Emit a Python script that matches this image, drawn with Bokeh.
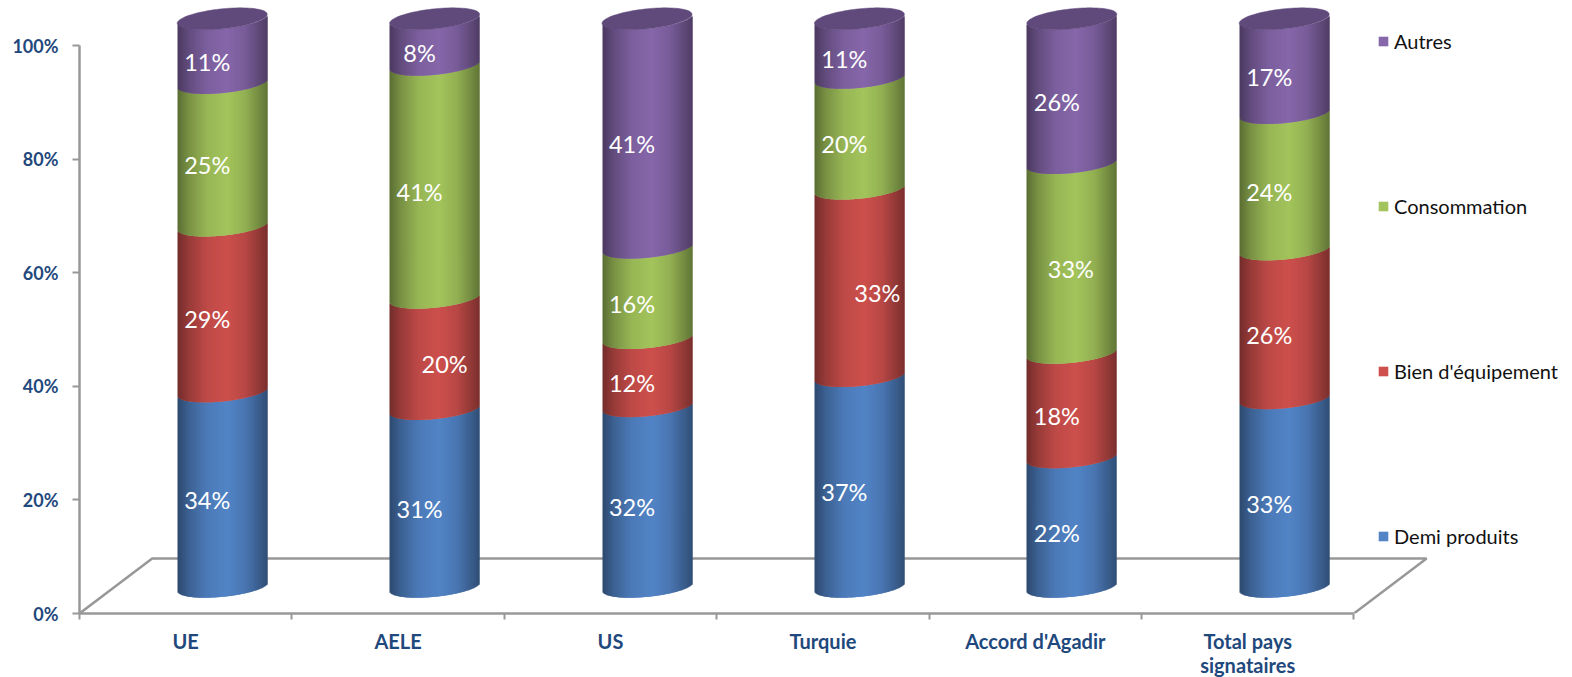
import numpy as np
from bokeh.plotting import figure
from bokeh.models import (Range1d, FixedTicker, Legend, LegendItem, ColumnDataSource)
from bokeh.core.properties import value
from bokeh.embed import file_html
from bokeh.resources import INLINE

categories = ["UE", "AELE", "US", "Turquie", "Accord d'Agadir", "Total pays\nsignataires"]
# heights (percent of each stack)
demi_produits = [34.4, 31.3, 31.8, 37.1, 22.8, 33.2]
bien_equipement = [29.2, 19.6, 12.0, 33.0, 18.4, 26.2]
consommation = [25.1, 41.0, 15.9, 19.5, 33.4, 24.0]
autres = [11.3, 8.1, 40.3, 10.4, 25.4, 16.6]
# figures printed on the bars
demi_labels = [34, 31, 32, 37, 22, 33]
bien_labels = [29, 20, 12, 33, 18, 26]
conso_labels = [25, 41, 16, 20, 33, 24]
autres_labels = [11, 8, 41, 11, 26, 17]
series_names = ["Demi produits", "Bien d'équipement", "Consommation", "Autres"]
series_values = [demi_produits, bien_equipement, consommation, autres]
series_labels = [demi_labels, bien_labels, conso_labels, autres_labels]
y_ticks = [0, 20, 40, 60, 80, 100]

# ---- styling / geometry (pixels of the 1572x677 canvas)
W, H = 1572, 677
LEFT, BOTTOM = 79, 64
PX_X, PX_Y = 212.4, 5.68
DX, DEPTH = 36.5 / PX_X, 4.7
HALF = 45
RY, TILT = 10.0, 4.5
BASE = [(82, 132, 198), (205, 80, 77), (163, 196, 92), (134, 103, 170)]
CAP = "#604a7c"
NAVY = "#1f497d"
GREY = "#989898"
FONT = "Lato"
LABEL_DX, LABEL_DY = -15, -1
LABEL_SHIFT = {(1, 1): 25, (3, 1): 33, (4, 2): 14}

p = figure(width=W, height=H, output_backend="svg", toolbar_location=None,
           x_range=Range1d(0, (W - LEFT) / PX_X),
           y_range=Range1d(0, (H - BOTTOM) / PX_Y),
           frame_height=H - BOTTOM, frame_width=W - LEFT,
           min_border_left=LEFT, min_border_right=0, min_border_top=0,
           min_border_bottom=BOTTOM, outline_line_color=None,
           margin=(0, 0, 0, 0))
p.grid.visible = False

# floor outline
fx, fy = 72.7 / PX_X, 55 / PX_Y
p.line([0, fx, 6 + fx, 6], [0, fy, fy, 0], line_color=GREY, line_width=2.5)


def arc(u):
    return (RY * np.sqrt(np.clip(1 - u ** 2, 0, 1)) - TILT * u) / PX_Y


def shade(rgb, u):
    f = np.interp(u, [-1, -0.75, -0.35, 0.1, 0.5, 1], [0.56, 0.74, 0.93, 1.0, 0.9, 0.6])
    return "#%02x%02x%02x" % tuple(int(c * f) for c in rgb)


totals = [sum(s[i] for s in series_values) for i in range(len(categories))]
cum = [0.0] * len(categories)
lab = dict(x=[], y=[], t=[])
for s, vals in enumerate(series_values):
    src = dict(left=[], right=[], bottom=[], top=[], color=[])
    for i, v in enumerate(vals):
        share = 100.0 * v / totals[i]
        lo, hi = cum[i], cum[i] + share
        cum[i] = hi
        cx = i + 0.5 + DX
        x0 = round(cx * PX_X) - HALF      # snap the strips to whole pixels
        for k in range(2 * HALF):
            u = (k + 0.5 - HALF) / HALF
            off = arc(u)
            src["left"].append((x0 + k) / PX_X)
            src["right"].append((x0 + k + (2 if k < 2 * HALF - 1 else 1)) / PX_X)
            src["bottom"].append(lo + DEPTH - off)
            src["top"].append(hi + DEPTH - off)
            src["color"].append(shade(BASE[s], u))
        shift = LABEL_SHIFT.get((i, s), 0)
        lab["x"].append(cx + (LABEL_DX + shift) / PX_X)
        lab["y"].append((lo + hi) / 2 + DEPTH + (LABEL_DY - RY) / PX_Y)
        lab["t"].append(f"{series_labels[s][i]}%")
    p.quad(left="left", right="right", bottom="bottom", top="top", fill_color="color",
           line_color=None, source=ColumnDataSource(src))

# top caps
t = np.linspace(0, 2 * np.pi, 90)
xs, ys = [], []
for i in range(len(categories)):
    cx = i + 0.5 + DX
    u = np.cos(t)
    xs.append(list(cx + u * HALF / PX_X))
    ys.append(list(100 + DEPTH - (RY * np.sin(t) - TILT * u) / PX_Y))
p.patches(xs, ys, fill_color=CAP, line_color=CAP, line_width=0.5)

p.text(x="x", y="y", text="t", source=ColumnDataSource(lab), text_color="white",
       text_font=value(FONT), text_font_size="23.5px", text_align="center",
       text_baseline="middle")

# axes
ya = p.yaxis[0]
ya.ticker = FixedTicker(ticks=y_ticks)
ya.major_label_overrides = {v: f"{v}%" for v in y_ticks}
ya.bounds = (0, 100)
ya.major_tick_in, ya.major_tick_out = 0, 7
ya.minor_tick_line_color = None
ya.major_label_standoff = 14
xa = p.xaxis[0]
xa.ticker = FixedTicker(ticks=[i + 0.5 for i in range(len(categories))],
                        minor_ticks=list(range(len(categories) + 1)))
xa.major_label_overrides = {i + 0.5: c for i, c in enumerate(categories)}
xa.bounds = (0, len(categories))
xa.major_tick_line_color = None
xa.minor_tick_in, xa.minor_tick_out = 0, 6
xa.minor_tick_line_color = GREY
xa.minor_tick_line_width = 2
xa.major_label_standoff = 9
for a in (xa, ya):
    a.axis_line_color = GREY
    a.axis_line_width = 2.5
    a.major_label_text_color = NAVY
    a.major_label_text_font = FONT
    a.major_label_text_font_style = "bold"
    a.major_label_text_font_size = "18px"
xa.major_label_text_font_size = "20px"
xa.major_label_text_line_height = 1.0
ya.major_tick_line_color = GREY
ya.major_tick_line_width = 2

# legend
items = []
for s in reversed(range(4)):
    col = "#%02x%02x%02x" % BASE[s]
    r = p.quad(left=[-1], right=[-0.9], bottom=[-1], top=[-0.9], fill_color=col, line_color=None)
    items.append(LegendItem(label=series_names[s], renderers=[r]))
legend = Legend(items=items, location=(1298, 65), spacing=141, padding=0, margin=0,
                glyph_width=12, glyph_height=12, label_standoff=5, label_height=20,
                label_text_font=FONT, label_text_font_size="20px",
                label_text_color="#111111", border_line_color=None,
                background_fill_alpha=0)
p.add_layout(legend)

open("out.html", "w").write(file_html(p, INLINE))
